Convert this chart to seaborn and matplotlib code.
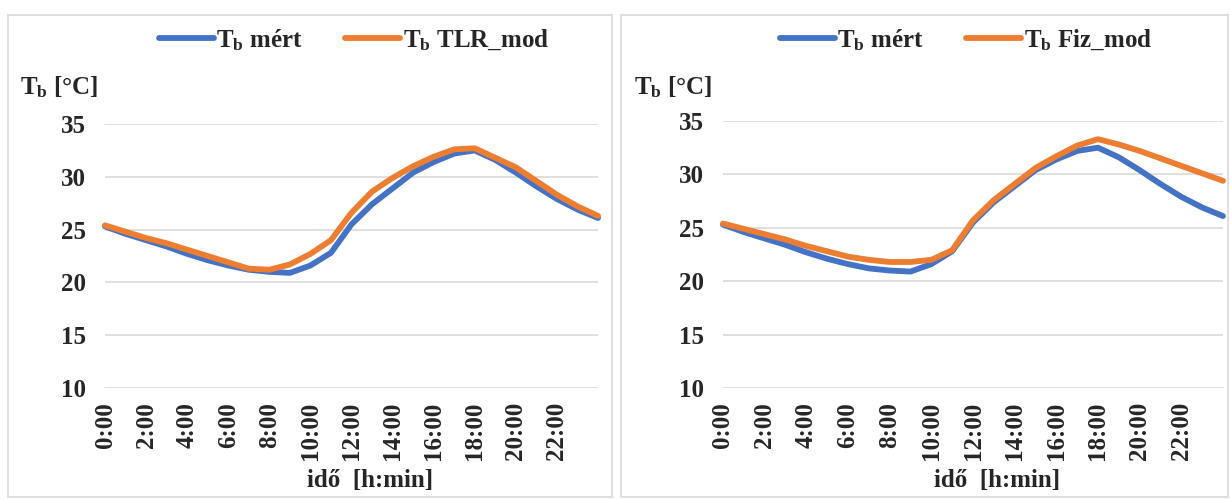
import matplotlib
matplotlib.use("Agg")
import matplotlib.pyplot as plt
import pandas as pd
import seaborn as sns
from matplotlib.patches import Rectangle

# -----------------------------
# Data
# -----------------------------
hours = list(range(25))

tb_mert = [25.3, 24.6, 24.0, 23.4, 22.7, 22.1, 21.6, 21.2, 21.0, 20.9, 21.6, 22.8,
           25.5, 27.4, 28.9, 30.4, 31.4, 32.2, 32.5, 31.6, 30.4, 29.1, 27.9, 26.9, 26.1]

tb_tlr = [25.4, 24.8, 24.2, 23.7, 23.1, 22.5, 21.9, 21.3, 21.2, 21.7, 22.7, 24.0,
          26.6, 28.6, 29.9, 31.0, 31.9, 32.6, 32.7, 31.8, 30.9, 29.6, 28.3, 27.2, 26.3]

tb_fiz = [25.4, 24.9, 24.4, 23.9, 23.3, 22.8, 22.3, 22.0, 21.8, 21.8, 22.0, 22.9,
          25.7, 27.6, 29.1, 30.6, 31.7, 32.7, 33.3, 32.8, 32.2, 31.5, 30.8, 30.1, 29.4]

tick_hours = [0, 2, 4, 6, 8, 10, 12, 14, 16, 18, 20, 22]
tick_labels = ["0:00", "2:00", "4:00", "6:00", "8:00", "10:00",
               "12:00", "14:00", "16:00", "18:00", "20:00", "22:00"]
y_ticks = [10, 15, 20, 25, 30, 35]

label_mert = "T$_b$ mért"
label_tlr = "T$_b$ TLR_mod"
label_fiz = "T$_b$ Fiz_mod"

blue = "#4472C4"
orange = "#ED7D31"
grid_col = "#d9d9d9"
text_col = "#262626"

sns.set_style("white")
plt.rcParams['font.family'] = ['Liberation Serif', 'DejaVu Serif']
plt.rcParams['font.weight'] = 'bold'
plt.rcParams['mathtext.default'] = 'regular'

W, H = 1231, 499
fig = plt.figure(figsize=(W / 100, H / 100), dpi=100)
FS = 18


def px_axes(x0, y0, x1, y1):
    return fig.add_axes([x0 / W, 1 - y1 / H, (x1 - x0) / W, (y1 - y0) / H])


def border(x0, y0, x1, y1):
    fig.add_artist(Rectangle((x0 / W, 1 - y1 / H), (x1 - x0) / W, (y1 - y0) / H,
                             transform=fig.transFigure, fill=False,
                             ec=grid_col, lw=1.2))


def draw_panel(ax, model, model_label, legend_x, ylab_x, xlab_x):
    df = pd.DataFrame({
        "hour": hours + hours,
        "Tb": tb_mert + model,
        "series": [label_mert] * len(hours) + [model_label] * len(hours),
    })
    sns.lineplot(data=df, x="hour", y="Tb", hue="series",
                 palette=[blue, orange], linewidth=4.2, ax=ax, legend=False)
    for ln in ax.lines:
        ln.set_clip_on(False)
        ln.set_solid_capstyle("round")
        ln.set_solid_joinstyle("round")

    ax.set_xlim(0, 24)
    ax.set_ylim(10, 35)
    ax.set_yticks(y_ticks)
    ax.set_xticks(tick_hours)
    ax.set_xticklabels(tick_labels, rotation=90)
    ax.set_xlabel("")
    ax.set_ylabel("")
    ax.grid(axis="y", color=grid_col, lw=1.2)
    ax.grid(axis="x", visible=False)
    for s in ax.spines.values():
        s.set_visible(False)
    ax.tick_params(axis="y", length=0, pad=14, labelsize=FS, colors=text_col)
    ax.tick_params(axis="x", length=0, pad=10, labelsize=FS, colors=text_col)

    ax.legend(ax.lines[:2], [label_mert, model_label], loc="center",
              bbox_to_anchor=(legend_x / W, 1 - 40 / H),
              bbox_transform=fig.transFigure, ncol=2, frameon=False,
              fontsize=FS, handlelength=2.2, handletextpad=0.1,
              columnspacing=1.7, labelcolor=text_col)

    fig.text(ylab_x / W, 1 - 87 / H, "T$_b$ [°C]", fontsize=FS,
             ha="left", va="center", color=text_col)
    fig.text(xlab_x / W, 1 - 481 / H, "idő  [h:min]", fontsize=FS,
             ha="center", va="center", color=text_col)


# -----------------------------
# Left panel: TLR model
# -----------------------------
border(8, 15, 612, 497)
ax1 = px_axes(105, 124, 598, 388)
draw_panel(ax1, tb_tlr, label_tlr, 354, 20, 370)

# -----------------------------
# Right panel: physical model
# -----------------------------
border(621, 15, 1228, 497)
ax2 = px_axes(723, 121, 1223, 388)
draw_panel(ax2, tb_fiz, label_fiz, 966, 634, 997)

plt.savefig("out.png", dpi=100)
